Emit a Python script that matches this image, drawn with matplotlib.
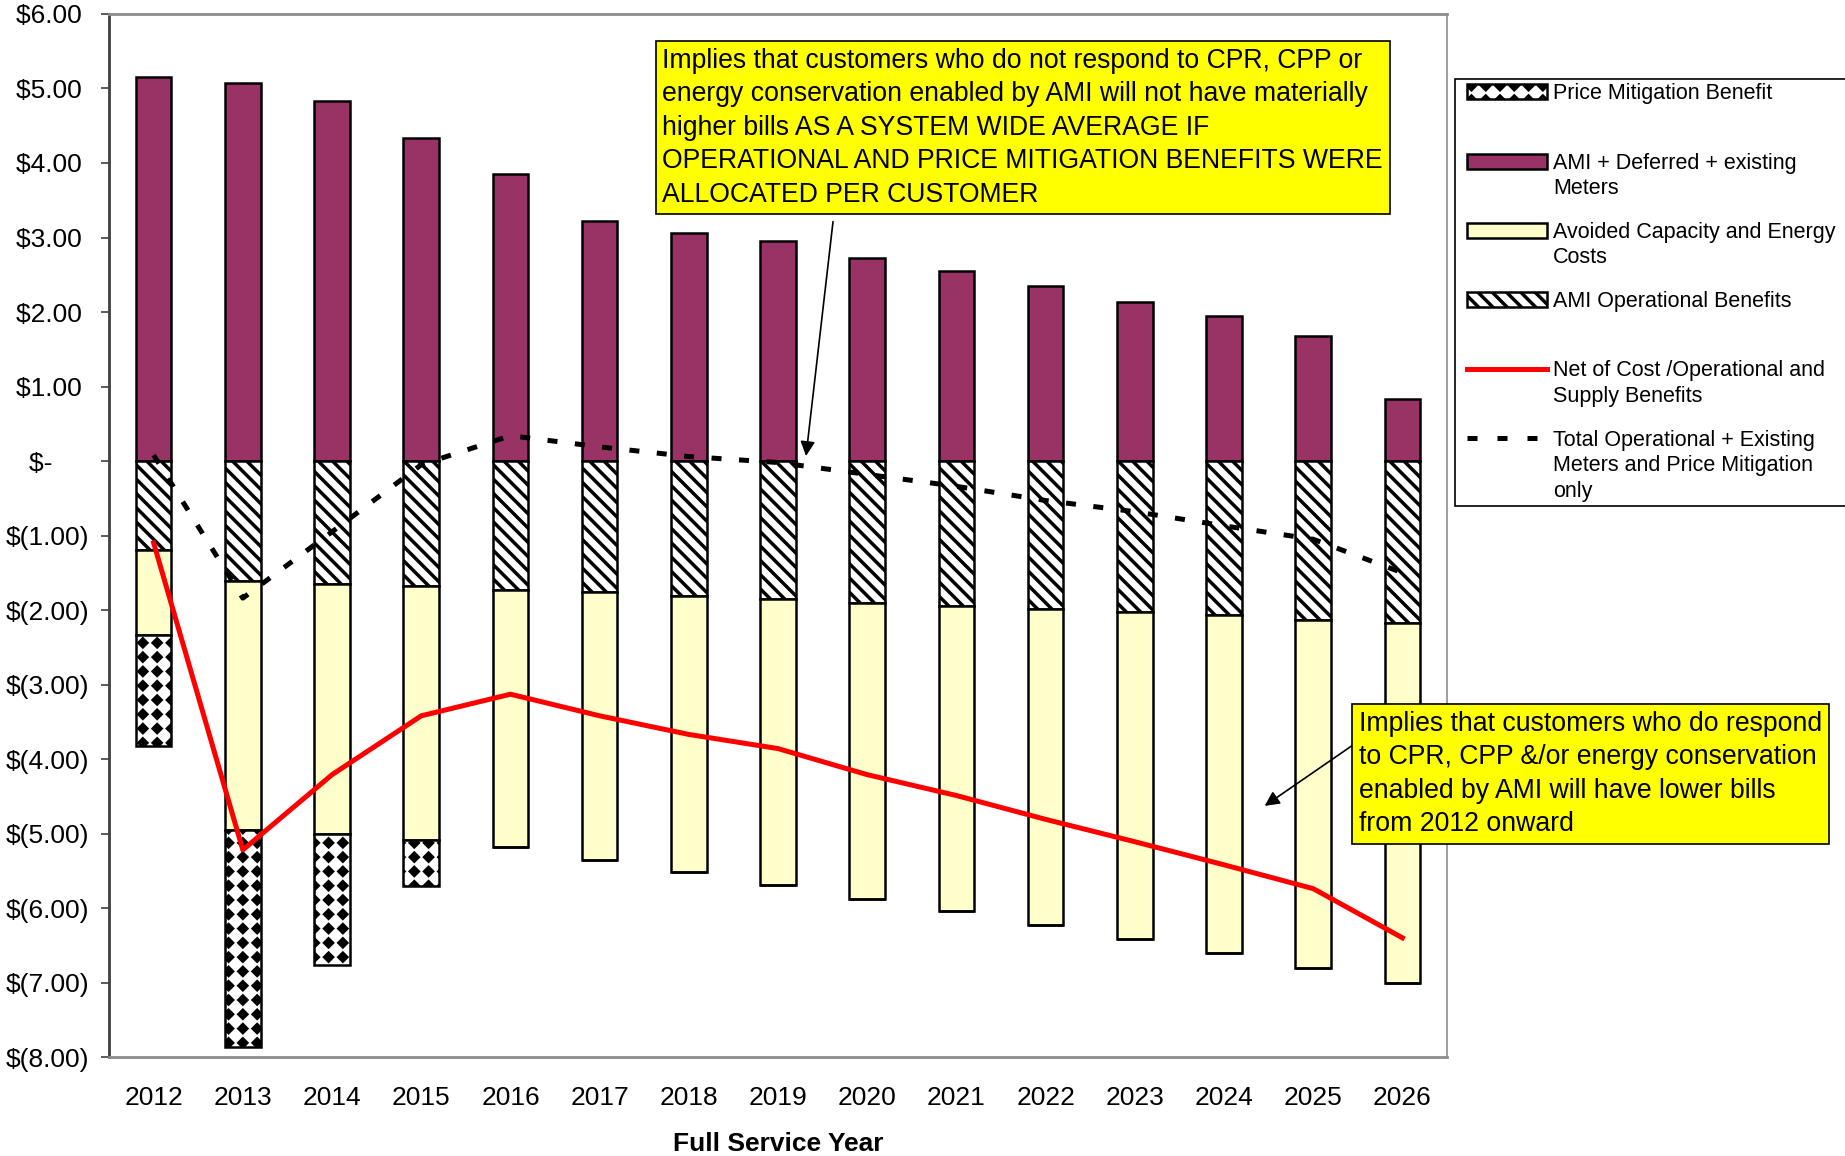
import numpy as np
import matplotlib
matplotlib.use('Agg')
import matplotlib.pyplot as plt
import matplotlib.hatch as mhatch
from matplotlib.path import Path
from matplotlib.patches import Patch
from matplotlib.lines import Line2D
from matplotlib.legend_handler import HandlerPatch, HandlerLine2D

years = ['2012', '2013', '2014', '2015', '2016', '2017', '2018', '2019',
         '2020', '2021', '2022', '2023', '2024', '2025', '2026']
ami_meter_cost = [5.15, 5.08, 4.83, 4.34, 3.85, 3.22, 3.06, 2.95,
                  2.73, 2.55, 2.35, 2.14, 1.94, 1.68, 0.83]
ami_operational = [-1.20, -1.61, -1.65, -1.68, -1.73, -1.76, -1.81, -1.85,
                   -1.90, -1.95, -1.98, -2.03, -2.07, -2.14, -2.18]
avoided_costs = [-1.14, -3.34, -3.35, -3.41, -3.45, -3.60, -3.71, -3.84,
                 -3.98, -4.09, -4.25, -4.39, -4.54, -4.67, -4.82]
price_mitigation = [-1.49, -2.92, -1.76, -0.62, 0, 0, 0, 0,
                    0, 0, 0, 0, 0, 0, 0]
net_of_cost = [-1.10, -5.22, -4.21, -3.42, -3.13, -3.42, -3.67, -3.86,
               -4.21, -4.49, -4.81, -5.11, -5.42, -5.74, -6.40]
total_operational = [0.08, -1.84, -0.95, -0.05, 0.34, 0.19, 0.06, -0.02,
                     -0.18, -0.34, -0.53, -0.68, -0.87, -1.05, -1.50]
y_ticks = [6, 5, 4, 3, 2, 1, 0, -1, -2, -3, -4, -5, -6, -7, -8]

legend_labels = ['Price Mitigation Benefit\n ',
                 'AMI + Deferred + existing\nMeters',
                 'Avoided Capacity and Energy  \nCosts',
                 'AMI Operational Benefits\n ',
                 'Net of Cost /Operational and\nSupply Benefits',
                 'Total Operational + Existing\nMeters and Price Mitigation\nonly']

note_top = ('Implies that customers who do not respond to CPR, CPP or\n'
            'energy conservation enabled by AMI will not have materially\n'
            'higher bills AS A SYSTEM WIDE AVERAGE IF\n'
            'OPERATIONAL AND PRICE MITIGATION BENEFITS WERE\n'
            'ALLOCATED PER CUSTOMER')
note_bottom = ('Implies that customers who do respond\n'
               'to CPR, CPP &/or energy conservation\n'
               'enabled by AMI will have lower bills\n'
               'from 2012 onward')


# Excel style diamond fill, used in place of the '*' hatch
class DiamondGrid(mhatch.HatchPatternBase):
    def __init__(self, hatch, density):
        n = hatch.count('*') * 7
        self.centres = []
        if n:
            step = 1.0 / n
            for i in range(n + 1):
                for j in range(n + 1):
                    self.centres.append((i * step, j * step))
            self.r = 0.27 * step
        self.num_vertices = len(self.centres) * 5

    def set_vertices_and_codes(self, vertices, codes):
        r = self.r
        shape = np.array([[0, r], [r, 0], [0, -r], [-r, 0], [0, r]])
        for i, c in enumerate(self.centres):
            vertices[i * 5:(i + 1) * 5] = shape + c
            codes[i * 5:(i + 1) * 5] = [Path.MOVETO, Path.LINETO, Path.LINETO,
                                        Path.LINETO, Path.CLOSEPOLY]


# back slashes a bit closer than the default (line count must stay even)
class DenseSouthEast(mhatch.SouthEastHatch):
    def __init__(self, hatch, density):
        super().__init__(hatch, 7)


types = mhatch._hatch_types
types[types.index(mhatch.Stars)] = DiamondGrid
types[types.index(mhatch.SouthEastHatch)] = DenseSouthEast


# legend handles sit on the first line of a multi line label
class LiftedPatch(HandlerPatch):
    def __init__(self, lift=0.0, dx=0.0, **kw):
        super().__init__(**kw)
        self.lift = lift
        self.dx = dx

    def create_artists(self, legend, orig_handle, xdescent, ydescent,
                       width, height, fontsize, trans):
        return super().create_artists(legend, orig_handle,
                                      xdescent - self.dx * fontsize,
                                      ydescent - self.lift * fontsize,
                                      width, height, fontsize, trans)


class LiftedLine(HandlerLine2D):
    def __init__(self, lift=0.0, dx=0.0, **kw):
        super().__init__(**kw)
        self.lift = lift
        self.dx = dx

    def create_artists(self, legend, orig_handle, xdescent, ydescent,
                       width, height, fontsize, trans):
        return super().create_artists(legend, orig_handle,
                                      xdescent - self.dx * fontsize,
                                      ydescent - 2 * self.lift * fontsize,
                                      width, height, fontsize, trans)


plt.rcParams['font.family'] = ['Liberation Sans', 'DejaVu Sans']
plt.rcParams['hatch.linewidth'] = 2.5

plum = '#993366'
cream = '#FFFFCC'

fig = plt.figure(figsize=(18.45, 11.56), dpi=100)
ax = fig.add_axes([0.0591, 0.0856, 0.7252, 0.9023])

x = np.arange(len(years))
w = 0.4
op = np.array(ami_operational)
av = np.array(avoided_costs)

ax.bar(x, ami_meter_cost, w, color=plum, edgecolor='black', lw=1.8, zorder=2)
ax.bar(x, op, w, color='white', edgecolor='black', lw=1.8,
       hatch='\\\\', zorder=2)
ax.bar(x, av, w, bottom=op, color=cream, edgecolor='black', lw=1.8, zorder=2)
ax.bar(x, price_mitigation, w, bottom=op + av, color='white',
       edgecolor='black', lw=1.8, hatch='*', zorder=2)

ax.plot(x, net_of_cost, color='#FF0000', lw=3.6, zorder=3)
ax.plot(x, total_operational, color='black', lw=3.6,
        linestyle=(0, (2, 3.5)), zorder=3)

ax.set_xlim(-0.5, len(years) - 0.5)
ax.set_ylim(-8, 6)
ax.set_xticks(x)
ax.set_xticklabels(years, fontsize=19)
ax.tick_params(axis='x', length=0, pad=21)


def money(v):
    if v == 0:
        return '$-     '
    if v < 0:
        return '$(%.2f)' % -v
    return '$%.2f ' % v


ax.set_yticks(y_ticks)
ax.set_yticklabels([money(v) for v in y_ticks], fontsize=19)
ax.tick_params(axis='y', length=6, width=1.2, pad=8, color='#404040')
ax.set_xlabel('Full Service Year', fontsize=19, fontweight='bold', labelpad=16)

for side in ['top', 'right', 'bottom']:
    ax.spines[side].set_color('#8c8c8c')
    ax.spines[side].set_linewidth(2)
ax.spines['right'].set_linewidth(1.2)
ax.spines['left'].set_color('#404040')
ax.spines['left'].set_linewidth(2)

box = dict(boxstyle='square,pad=0.25', fc='#FFFF00', ec='black', lw=1.2)
fig.text(0.359, 0.9585, note_top, fontsize=19.2, va='top', ha='left',
         linespacing=1.37, bbox=box, zorder=5)
fig.text(0.7366, 0.385, note_bottom, fontsize=19.2, va='top', ha='left',
         linespacing=1.37, bbox=box, zorder=5)

arrow = dict(arrowstyle='-|>', color='black', lw=1.2, mutation_scale=22)
ax.annotate('', xy=(7.31, 0.03), xytext=(7.62, 3.25), arrowprops=arrow,
            zorder=4)
ax.annotate('', xy=(12.43, -4.65), xytext=(13.46, -3.80), arrowprops=arrow,
            zorder=4, annotation_clip=False)

handles = [Patch(fc='white', ec='black', lw=1.8, hatch='*'),
           Patch(fc=plum, ec='black', lw=1.8),
           Patch(fc=cream, ec='black', lw=1.8),
           Patch(fc='white', ec='black', lw=1.8, hatch='\\\\'),
           Line2D([], [], color='#FF0000', lw=3.6),
           Line2D([], [], color='black', lw=3.6, linestyle=(0, (2, 4)))]
lifts = [0.7, 0.7, 0.7, 0.7, 0.7, 1.33]
hmap = {}
for h, lift in zip(handles, lifts):
    if isinstance(h, Patch):
        hmap[h] = LiftedPatch(lift, 0.37)
    else:
        hmap[h] = LiftedLine(lift, 0.37)

leg = fig.legend(handles, legend_labels, handler_map=hmap, loc='upper left',
                 bbox_to_anchor=(0.7886, 0.9317), borderaxespad=0,
                 fontsize=15.5, frameon=True, fancybox=False,
                 edgecolor='black', framealpha=1, handlelength=3.7,
                 handleheight=0.7, handletextpad=0.67, borderpad=0.2,
                 labelspacing=1.06)
leg.get_frame().set_linewidth(1.2)
for t in leg.get_texts():
    t.set_linespacing(1.28)

fig.savefig('out.png', dpi=100)
